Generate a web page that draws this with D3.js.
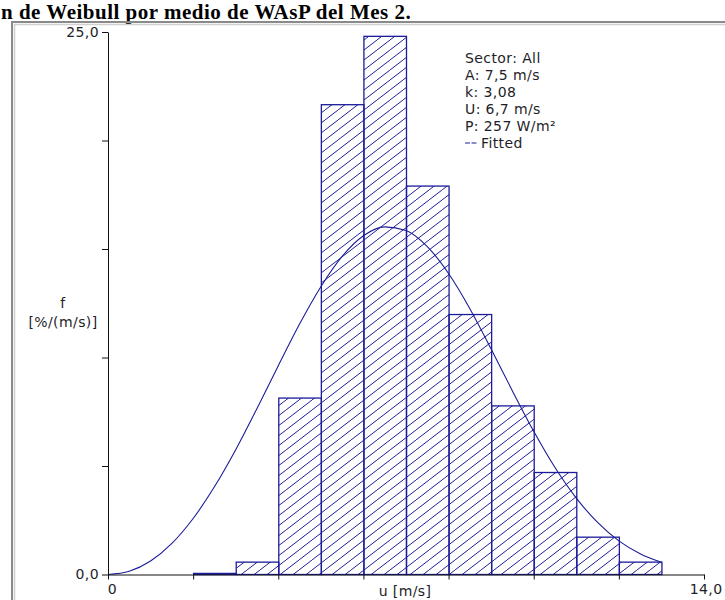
<!DOCTYPE html>
<meta charset="utf-8">
<style>
  body { margin: 0; background: #fff; }
  svg { display: block; }
</style>
<body>
<script src="https://cdn.jsdelivr.net/npm/d3@7"></script>
<div id="my_dataviz"></div>
<script>

// histogram bins (m/s) and frequency [%/(m/s)]
const binStart = [2, 3, 4, 5, 6, 7, 8, 9, 10, 11, 12];
const binFreq  = [0.05, 0.57, 8.13, 21.65, 24.8, 17.9, 11.98, 7.77, 4.7, 1.72, 0.57];

// fitted curve
const curveU = [0, 0.5, 1, 1.5, 2, 2.5, 3, 3.5, 4, 4.5, 5, 5.5, 6, 6.5, 7, 7.5, 8, 8.5, 9, 9.5, 10, 10.5, 11, 11.5, 12, 12.5, 13];
const curveF = [0, 0.15, 0.62, 1.43, 2.58, 4.04, 5.75, 7.65, 9.62, 11.54, 13.26, 14.66, 15.61, 16.02, 15.85, 15.11, 13.87, 12.25, 10.39, 8.46, 6.6, 4.93, 3.52, 2.4, 1.55, 0.96, 0.56];

const legendLines = ["Sector: All", "A: 7,5 m/s", "k: 3,08", "U: 6,7 m/s", "P: 257 W/m²"];
const xTicks = [0, 2, 4, 6, 8, 10, 12, 14];
const yTicks = [0, 5, 10, 15, 20, 25];

const width = 725, height = 600;
const blue = "#1c1c9a";
const ink = "#1e1e28";
const font = "'DejaVu Sans', Verdana, sans-serif";
const fsize = "14px";

const svg = d3.select("#my_dataviz")
  .append("svg")
    .attr("width", width)
    .attr("height", height);

// label helper, same look everywhere
function label(sel) {
  sel.attr("font-family", font)
    .attr("font-size", fsize)
    .attr("letter-spacing", "0.4px")
    .attr("fill", ink);
}

// title
svg.append("text")
  .attr("x", 1)
  .attr("y", 19)
  .attr("font-family", "'Liberation Serif', 'Times New Roman', serif")
  .attr("font-weight", "bold")
  .attr("font-size", "21px")
  .attr("letter-spacing", "0.5px")
  .attr("fill", "#000")
  .text("n de Weibull por medio de WAsP del Mes 2.");

// grey frame
svg.append("rect")
  .attr("x", 12).attr("y", 22)
  .attr("width", 740).attr("height", 600)
  .attr("fill", "none")
  .attr("stroke", "#8a8a8a")
  .attr("stroke-width", 2);
svg.append("rect")
  .attr("x", 14.5).attr("y", 24.5)
  .attr("width", 740).attr("height", 600)
  .attr("fill", "none")
  .attr("stroke", "#d0d0d0")
  .attr("stroke-width", 1.5);

// hatch pattern
const defs = svg.append("defs");
const hw = 13, hh = 10;
defs.append("pattern")
  .attr("id", "hatch")
  .attr("patternUnits", "userSpaceOnUse")
  .attr("width", hw)
  .attr("height", hh)
  .append("path")
    .attr("d", `M-1,${hh + hh / hw} L${hw + 1},${-hh / hw}`)
    .attr("stroke", blue)
    .attr("stroke-width", 1)
    .attr("fill", "none");

const x = d3.scaleLinear().domain([0, 14]).range([108, 704]);
const y = d3.scaleLinear().domain([0, 25]).range([574.5, 32]);

// bars
svg.append("g")
  .selectAll("rect")
  .data(binStart.map((s, i) => ({s: s, f: binFreq[i]})))
  .join("rect")
    .attr("x", d => x(d.s) + 0.5)
    .attr("y", d => y(d.f))
    .attr("width", d => x(d.s + 1) - x(d.s))
    .attr("height", d => y(0) - y(d.f))
    .attr("fill", "url(#hatch)")
    .attr("stroke", blue)
    .attr("stroke-width", 1.3);

// fitted curve
svg.append("path")
  .datum(curveU.map((u, i) => [u, curveF[i]]))
  .attr("d", d3.line()
    .x(d => x(d[0]))
    .y(d => y(d[1]))
    .curve(d3.curveMonotoneX))
  .attr("fill", "none")
  .attr("stroke", blue)
  .attr("stroke-width", 1.1);

// x axis
const xAxis = d3.axisBottom(x)
  .tickValues(xTicks)
  .tickSize(5)
  .tickSizeOuter(0)
  .tickPadding(5)
  .tickFormat(d => d === 0 ? "0" : d === 14 ? "14,0" : "");
const gx = svg.append("g")
  .attr("transform", `translate(0, ${y(0)})`)
  .call(xAxis);
gx.selectAll("text").call(label);
gx.selectAll("text").filter(d => d === 14).attr("text-anchor", "end").attr("dx", "18px");
gx.selectAll("text").filter(d => d === 0).attr("dx", "4px");
gx.selectAll("line, path").attr("stroke", "#111");

// y axis
const yAxis = d3.axisLeft(y)
  .tickValues(yTicks)
  .tickSize(6)
  .tickSizeOuter(0)
  .tickPadding(3)
  .tickFormat(d => d === 0 ? "0,0" : d === 25 ? "25,0" : "");
const gy = svg.append("g")
  .attr("transform", `translate(${x(0)}, 0)`)
  .call(yAxis);
gy.selectAll("text").call(label);
gy.selectAll("line, path").attr("stroke", "#111");

// axis titles
svg.append("text")
  .attr("x", 63).attr("y", 308)
  .attr("text-anchor", "middle")
  .call(label)
  .text("f");
svg.append("text")
  .attr("x", 63).attr("y", 327)
  .attr("text-anchor", "middle")
  .call(label)
  .text("[%/(m/s)]");
svg.append("text")
  .attr("x", 405).attr("y", 596)
  .attr("text-anchor", "middle")
  .call(label)
  .text("u [m/s]");

// legend block
const lg = svg.append("g").attr("transform", "translate(465, 63)");
lg.selectAll("text.row")
  .data(legendLines)
  .join("text")
    .attr("class", "row")
    .attr("x", 0)
    .attr("y", (d, i) => i * 17)
    .call(label)
    .text(d => d);
lg.append("line")
  .attr("x1", 0).attr("x2", 12)
  .attr("y1", legendLines.length * 17 - 5).attr("y2", legendLines.length * 17 - 5)
  .attr("stroke", blue)
  .attr("stroke-width", 1.2)
  .attr("stroke-dasharray", "5,1.5");
lg.append("text")
  .attr("x", 16)
  .attr("y", legendLines.length * 17)
  .call(label)
  .text("Fitted");

</script>
</body>
